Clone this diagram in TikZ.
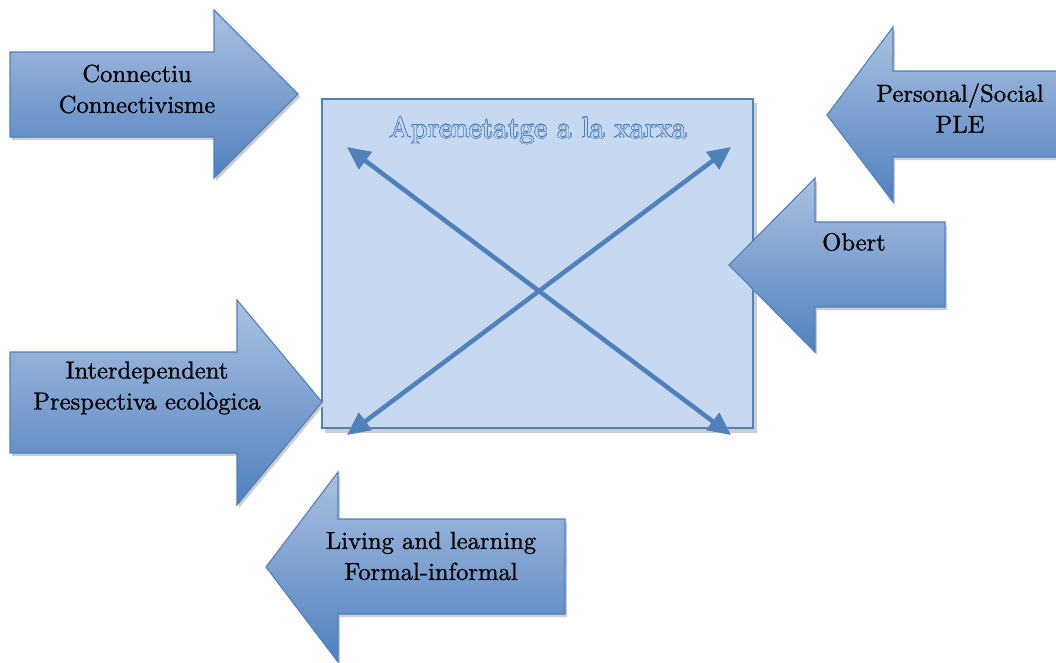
\documentclass[tikz,border=0pt]{standalone}
\usepackage{fontspec}
\newfontfamily\capface{lmroman10-regular.otf}[FakeBold=1]
\newfontfamily\titleface{lmroman10-regular.otf}
\usepackage{contour}
\usetikzlibrary{arrows.meta}
\definecolor{accent}{RGB}{79,129,189}
\definecolor{panelblue}{RGB}{198,217,241}
\definecolor{gradtop}{RGB}{170,193,225}
\definecolor{gradbot}{RGB}{80,128,190}
\definecolor{shadowgray}{RGB}{205,205,205}
\contourlength{0.45pt}
\contournumber{24}

\begin{document}
\begin{tikzpicture}[x=1pt,y=-1pt,
  blockarrow/.style={top color=gradtop,bottom color=gradbot,draw=accent,line width=1.1pt,line join=miter},
  dropshadow/.style={fill=shadowgray,draw=none},
  caption/.style={align=center,font=\capface\bfseries\fontsize{24.6}{31}\selectfont,text=black,inner sep=0pt},
  crossline/.style={line width=4.5pt,{Triangle[length=23pt,width=21pt]}-{Triangle[length=23pt,width=21pt]}},
]
\useasboundingbox (0,0) rectangle (1056,662);
\clip (0,0) rectangle (1056,662);

% central panel with its drop shadow
\fill[shadowgray] (325,103) rectangle (757,433);
\node[draw=accent,fill=panelblue,line width=1.4pt,minimum width=431pt,minimum height=329pt,inner sep=0pt]
  (panel) at (537.5,263.5) {};

% title in outlined lettering
\node[inner sep=0pt] (title) at (538,131)
  {\titleface\fontsize{29.5}{31}\selectfont\contour{accent}{\textcolor{panelblue}{Aprenetatge a la xarxa}}};

% the crossing double-headed arrows
\coordinate (tl) at (347,147);
\coordinate (tr) at (731,147);
\coordinate (bl) at (347,435);
\coordinate (br) at (731,435);
\begin{scope}[shift={(2,3)}]
  \draw[crossline,draw=shadowgray,fill=shadowgray] (tl) -- (br);
  \draw[crossline,draw=shadowgray,fill=shadowgray] (tr) -- (bl);
\end{scope}
\draw[crossline,draw=accent,fill=accent] (tl) -- (br);
\draw[crossline,draw=accent,fill=accent] (tr) -- (bl);

% block arrows: outline paths
\def\arrowConnectiu{(10,52) -- (214,52) -- (214,10) -- (298,94) -- (214,178) -- (214,137) -- (10,137) -- cycle}
\def\arrowPersonal{(1070,71) -- (893,71) -- (893,27) -- (827,115) -- (893,202) -- (893,157) -- (1070,157) -- cycle}
\def\arrowObert{(945,222) -- (815,222) -- (815,178) -- (729,265) -- (815,352) -- (815,307) -- (945,307) -- cycle}
\def\arrowInter{(10,352) -- (237,352) -- (237,300) -- (322,402) -- (237,505) -- (237,453) -- (10,453) -- cycle}
\def\arrowLiving{(565,519) -- (338,519) -- (338,472) -- (266,567) -- (338,662) -- (338,614) -- (565,614) -- cycle}

\begin{scope}[shift={(2,3)}]
  \fill[dropshadow] \arrowConnectiu;
  \fill[dropshadow] \arrowPersonal;
  \fill[dropshadow] \arrowObert;
  \fill[dropshadow] \arrowInter;
  \fill[dropshadow] \arrowLiving;
\end{scope}
\shade[blockarrow] \arrowConnectiu;
\shade[blockarrow] \arrowPersonal;
\shade[blockarrow] \arrowObert;
\shade[blockarrow] \arrowInter;
\shade[blockarrow] \arrowLiving;

% labels
\node[caption] (connectiu) at (137,89) {Connectiu\\Connectivisme};
\node[caption] (personal) at (960,108) {Personal/Social\\PLE};
\node[caption] (obert) at (854,242) {Obert};
\node[caption] (inter) at (147,388) {Interdependent\\Prespectiva ecològica};
\node[caption] (living) at (431,556) {Living and learning\\Formal-informal};
\end{tikzpicture}
\end{document}
